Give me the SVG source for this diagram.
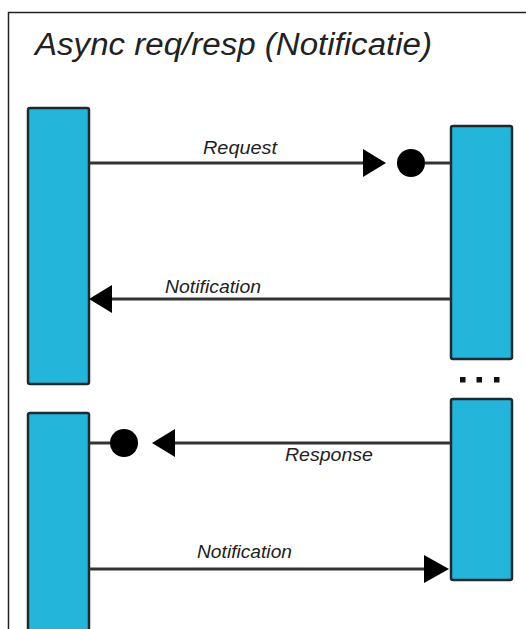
<svg xmlns="http://www.w3.org/2000/svg" width="526" height="629" viewBox="0 0 526 629">
<style>
.bar{fill:#23b5da;stroke:#1e2a30;stroke-width:2.5}
.ln{stroke:#333;stroke-width:3;fill:none}
.lbl{font-family:"Liberation Sans",Arial,sans-serif;font-style:italic;font-size:18px;fill:#222}
.title{font-family:"Liberation Sans",Arial,sans-serif;font-style:italic;font-size:31px;fill:#222}
</style>
<rect x="0" y="0" width="526" height="629" fill="#fff"/>
<rect x="8.5" y="12.5" width="540" height="640" fill="none" stroke="#222" stroke-width="1.5"/>
<text class="title" x="35" y="55" textLength="397" lengthAdjust="spacingAndGlyphs">Async req/resp (Notificatie)</text>
<g id="left-top"><rect class="bar" x="28" y="108" width="61" height="276" rx="2"/></g>
<g id="right-top"><rect class="bar" x="451" y="126" width="61" height="233" rx="2"/></g>
<g id="right-bottom"><rect class="bar" x="451" y="399" width="61" height="181" rx="2"/></g>
<g id="left-bottom"><rect class="bar" x="28" y="413" width="61" height="240" rx="2"/></g>
<g id="dots" fill="#111">
<rect x="460" y="377" width="5.5" height="5.5"/>
<rect x="476.5" y="377" width="5.5" height="5.5"/>
<rect x="494" y="377" width="5.5" height="5.5"/>
</g>
<g id="connectors">
<line class="ln" x1="89" y1="163" x2="366" y2="163"/>
<polygon points="363,149 386,163 363,177" fill="#000"/>
<circle cx="411" cy="163" r="14" fill="#000"/>
<line class="ln" x1="425" y1="163" x2="451" y2="163"/>
<line class="ln" x1="451" y1="299" x2="108" y2="299"/>
<polygon points="89,299 112,285 112,313" fill="#000"/>
<line class="ln" x1="451" y1="443" x2="172" y2="443"/>
<polygon points="152,443 175,429 175,457" fill="#000"/>
<circle cx="124" cy="443" r="14" fill="#000"/>
<line class="ln" x1="89" y1="443" x2="110" y2="443"/>
<line class="ln" x1="89" y1="569" x2="428" y2="569"/>
<polygon points="424,555 449,569 424,583" fill="#000"/>
</g>
<g id="labels">
<text class="lbl" x="203" y="154" textLength="74" lengthAdjust="spacingAndGlyphs">Request</text>
<text class="lbl" x="165" y="293" textLength="96" lengthAdjust="spacingAndGlyphs">Notification</text>
<text class="lbl" x="285" y="461" textLength="88" lengthAdjust="spacingAndGlyphs">Response</text>
<text class="lbl" x="197" y="558" textLength="95" lengthAdjust="spacingAndGlyphs">Notification</text>
</g>
</svg>
